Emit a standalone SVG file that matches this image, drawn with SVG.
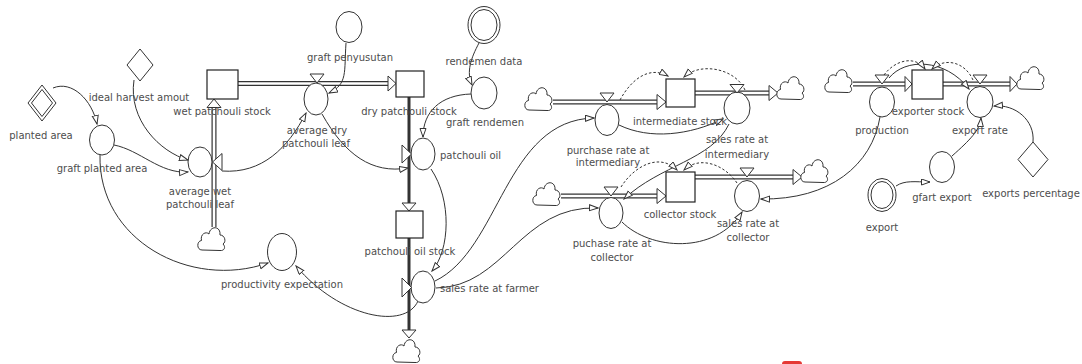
<svg xmlns="http://www.w3.org/2000/svg" xmlns:xlink="http://www.w3.org/1999/xlink" width="1082" height="364" viewBox="0 0 1082 364">
<style>
.lbl{font-family:"DejaVu Sans",sans-serif;font-size:10px;fill:#4d4d4d;text-anchor:middle}
.st{text-anchor:start}
.aux{fill:#fff;stroke:#333;stroke-width:1}
.stock{fill:#fff;stroke:#222;stroke-width:1.2}
.pipeo{fill:none;stroke:#333;stroke-width:5}
.pipei{fill:none;stroke:#fff;stroke-width:2.6}
.pipes{fill:none;stroke:#333;stroke-width:3}
.head{fill:#fff;stroke:#333;stroke-width:1}
.lnk{fill:none;stroke:#333;stroke-width:1;marker-end:url(#ah)}
.dlnk{fill:none;stroke:#333;stroke-width:1;stroke-dasharray:2.5,2;marker-end:url(#ah)}
.cloud{fill:#fff;stroke:#333;stroke-width:1}
</style>
<defs>
<marker id="ah" markerUnits="userSpaceOnUse" markerWidth="10" markerHeight="8" refX="9" refY="3.5" orient="auto">
<path d="M0.5,0.5 L9,3.5 L0.5,6.5 Z" fill="#fff" stroke="#333" stroke-width="1"/>
</marker>
<path id="cl" d="M-10,11 C-15.5,11 -15.5,2 -10.5,1.5 C-12,-5 -6,-8 -3,-5 C-2,-13.5 9,-13.5 8,-4 C13,-4 14.5,3 11,5 C14,8 12.5,12 8,11.5 Z"/>
</defs>
<rect width="1082" height="364" fill="#fff"/>

<g id="pipes">
<!-- wet -> dry -->
<line class="pipeo" x1="238" y1="83.5" x2="389" y2="83.5"/><line class="pipei" x1="238" y1="83.5" x2="390" y2="83.5"/>
<polygon class="head" points="388,76 396,83.5 388,91"/>
<!-- cloud -> wet stock (vertical) -->
<line class="pipeo" x1="214" y1="227" x2="214" y2="107"/><line class="pipei" x1="214" y1="228" x2="214" y2="106"/>
<polygon class="head" points="207,107.5 214,99 221,107.5"/>
<!-- dry -> patchouli oil stock -> cloud -->
<line class="pipes" x1="409" y1="97" x2="409" y2="204"/>
<polygon class="head" points="402,203 409,211 416,203"/>
<line class="pipes" x1="409" y1="238" x2="409" y2="331"/>
<polygon class="head" points="402,330 409,338 416,330"/>
<!-- intermediate -->
<line class="pipeo" x1="553" y1="102" x2="658" y2="102"/><line class="pipei" x1="552" y1="102" x2="659" y2="102"/>
<polygon class="head" points="657,94.5 666,102 657,109.5"/>
<line class="pipeo" x1="695" y1="93" x2="770" y2="93"/><line class="pipei" x1="695" y1="93" x2="771" y2="93"/>
<polygon class="head" points="769,85.5 778,93 769,100.5"/>
<!-- collector -->
<line class="pipeo" x1="561" y1="196" x2="658" y2="196"/><line class="pipei" x1="560" y1="196" x2="659" y2="196"/>
<polygon class="head" points="657,188.5 666,196 657,203.5"/>
<line class="pipeo" x1="695" y1="177" x2="794" y2="177"/><line class="pipei" x1="695" y1="177" x2="795" y2="177"/>
<polygon class="head" points="793,169.5 802,177 793,184.5"/>
<!-- exporter -->
<line class="pipeo" x1="853" y1="84" x2="906" y2="84"/><line class="pipei" x1="852" y1="84" x2="907" y2="84"/>
<polygon class="head" points="905,76.5 912,84 905,91.5"/>
<line class="pipeo" x1="943" y1="84" x2="1011" y2="84"/><line class="pipei" x1="943" y1="84" x2="1012" y2="84"/>
<polygon class="head" points="1010,76.5 1017,84 1010,91.5"/>
</g>

<g id="clouds">
<use href="#cl" class="cloud" x="212" y="239"/>
<use href="#cl" class="cloud" x="407" y="351"/>
<use href="#cl" class="cloud" x="539" y="99"/>
<use href="#cl" class="cloud" x="791" y="88"/>
<use href="#cl" class="cloud" x="547" y="194"/>
<use href="#cl" class="cloud" x="815" y="171"/>
<use href="#cl" class="cloud" x="839" y="81"/>
<use href="#cl" class="cloud" x="1031" y="78"/>
</g>

<g id="connectors">
<path class="lnk" d="M53,88 C72,80 92,100 97,124"/>
<path class="lnk" d="M134,80 C128,120 160,152 188,160"/>
<path class="lnk" d="M114,145 C140,150 160,174 188,172"/>
<path class="lnk" d="M100,155 C98,240 190,290 268,263"/>
<path class="lnk" d="M222,171 C262,174 288,148 306,113"/>
<path class="lnk" d="M322,114 C345,155 372,174 408,168"/>
<path class="lnk" d="M346,43 C344,72 348,84 329,93"/>
<path class="lnk" d="M479,43 C471,58 466,72 472,85"/>
<path class="lnk" d="M471,94 C440,95 423,112 423,137"/>
<path class="lnk" d="M431,169 C452,200 450,250 432,271"/>
<path class="lnk" d="M418,301 C405,330 340,318 296,266"/>
<path class="lnk" d="M435,281 C500,250 505,120 594,118"/>
<path class="lnk" d="M436,288 C505,287 520,205 598,208"/>
<path class="lnk" d="M619,125 C650,140 690,135 723,119"/>
<path class="lnk" d="M729,124 C712,160 660,165 624,199"/>
<path class="lnk" d="M622,222 C650,250 715,255 742,212"/>
<path class="lnk" d="M880,117 C872,165 830,200 761,199"/>
<path class="lnk" d="M889,78 C905,58 945,58 969,89"/>
<path class="lnk" d="M1033,142 C1035,120 1015,104 994,106"/>
<path class="lnk" d="M952,156 C970,140 980,130 981,118"/>
<path class="lnk" d="M896,186 C905,180 915,182 930,182"/>
<path class="dlnk" d="M620,100 C632,78 650,66 668,76"/>
<path class="dlnk" d="M745,90 C735,68 700,62 684,77"/>
<path class="dlnk" d="M621,187 C635,165 660,153 677,170"/>
<path class="dlnk" d="M737,183 C725,165 700,155 684,170"/>
<path class="dlnk" d="M884,75 C895,60 915,55 925,69"/>
<path class="dlnk" d="M973,80 C965,62 945,57 932,69"/>
</g>

<g id="planted-area"><polygon class="aux" points="42,85 56,103 42,121 28,103"/><polygon class="aux" points="42,89.5 52.5,103 42,116.5 31.5,103"/><text class="lbl" x="41" y="138.5">planted area</text></g>
<g id="ideal-harvest-amout"><polygon class="aux" points="140,49 153,65 140,81 127,65"/><text class="lbl" x="139" y="100.5">ideal harvest amout</text></g>
<g id="wet-patchouli-stock"><rect class="stock" x="207" y="70" width="31" height="29"/><text class="lbl" x="222" y="114.5">wet patchouli stock</text></g>
<g id="graft-planted-area"><ellipse class="aux" cx="102" cy="140" rx="12.5" ry="15"/><text class="lbl" x="102" y="171.5">graft planted area</text></g>
<g id="average-wet-patchouli-leaf"><ellipse class="aux" cx="200" cy="162" rx="12" ry="15"/><polygon class="head" points="222,153.5 212.5,162 222,170.5"/><text class="lbl" x="200" y="194.5">average wet</text><text class="lbl" x="200" y="208">patchouli leaf</text></g>
<g id="graft-penyusutan"><ellipse class="aux" cx="349" cy="27" rx="13" ry="15.5"/><text class="lbl" x="350" y="60.5">graft penyusutan</text></g>
<g id="average-dry-patchouli-leaf"><ellipse class="aux" cx="316" cy="99" rx="12" ry="16"/><polygon class="head" points="310,74 324,74 317,83"/><text class="lbl" x="317" y="133.5">average dry</text><text class="lbl" x="316" y="147">patchouli leaf</text></g>
<g id="dry-patchouli-stock"><rect class="stock" x="396" y="71" width="28" height="26"/><text class="lbl" x="409" y="114.5">dry patchouli stock</text></g>
<g id="rendemen-data"><ellipse class="aux" cx="484" cy="25" rx="16" ry="18.5"/><ellipse class="aux" cx="484" cy="25" rx="13" ry="15.5"/><text class="lbl" x="484" y="64.5">rendemen data</text></g>
<g id="graft-rendemen"><ellipse class="aux" cx="484" cy="93" rx="13" ry="16"/><text class="lbl" x="485" y="125.5">graft rendemen</text></g>
<g id="patchouli-oil"><ellipse class="aux" cx="423" cy="154" rx="12" ry="16"/><polygon class="head" points="402,145 411.5,154 402,163"/><text class="lbl st" x="440" y="158.5">patchouli oil</text></g>
<g id="patchouli-oil-stock"><rect class="stock" x="396" y="211" width="27" height="27"/><text class="lbl" x="410" y="254.5">patchouli oil stock</text></g>
<g id="sales-rate-at-farmer"><ellipse class="aux" cx="423" cy="287" rx="12" ry="16"/><polygon class="head" points="402,278 411.5,287.5 402,297"/><text class="lbl st" x="440" y="291.5">sales rate at farmer</text></g>
<g id="productivity-expectation"><ellipse class="aux" cx="282" cy="252" rx="14.5" ry="18.5"/><text class="lbl" x="282" y="287.5">productivity expectation</text></g>
<g id="purchase-rate-at-intermediary"><ellipse class="aux" cx="607" cy="120" rx="12" ry="15.5"/><polygon class="head" points="600,93 614,93 607,102"/><text class="lbl" x="608" y="153.5">purchase rate at</text><text class="lbl" x="608" y="166">intermediary</text></g>
<g id="intermediate-stock"><rect class="stock" x="666" y="79" width="29" height="28"/><text class="lbl" x="680" y="124.5">intermediate stock</text></g>
<g id="sales-rate-at-intermediary"><ellipse class="aux" cx="737" cy="108" rx="13" ry="16"/><polygon class="head" points="730,84.5 744,84.5 737,93"/><text class="lbl" x="737" y="143">sales rate at</text><text class="lbl" x="737" y="157.5">intermediary</text></g>
<g id="puchase-rate-at-collector"><ellipse class="aux" cx="611" cy="213" rx="12" ry="15.5"/><polygon class="head" points="604,187 618,187 611,196"/><text class="lbl" x="612" y="246.5">puchase rate at</text><text class="lbl" x="612" y="260.5">collector</text></g>
<g id="collector-stock"><rect class="stock" x="666" y="172" width="29" height="30"/><text class="lbl" x="680" y="217.5">collector stock</text></g>
<g id="sales-rate-at-collector"><ellipse class="aux" cx="747" cy="196" rx="12.5" ry="15.5"/><polygon class="head" points="740,168 754,168 747,177"/><text class="lbl" x="748" y="226.5">sales rate at</text><text class="lbl" x="748" y="240.5">collector</text></g>
<g id="production"><ellipse class="aux" cx="882" cy="102" rx="12.5" ry="15"/><polygon class="head" points="875,75 889,75 882,84"/><text class="lbl" x="882" y="133.5">production</text></g>
<g id="exporter-stock"><rect class="stock" x="912" y="70" width="31" height="29"/><text class="lbl" x="928" y="114.5">exporter stock</text></g>
<g id="export-rate"><ellipse class="aux" cx="980" cy="102" rx="13" ry="15.5"/><polygon class="head" points="973,75 987,75 980,84"/><text class="lbl" x="980" y="133.5">export rate</text></g>
<g id="exports-percentage"><polygon class="aux" points="1033,142 1048,159.5 1033,177 1018,159.5"/><text class="lbl" x="1031" y="196.5">exports percentage</text></g>
<g id="gfart-export"><ellipse class="aux" cx="942" cy="167" rx="12.5" ry="15.5"/><text class="lbl" x="942" y="200.5">gfart export</text></g>
<g id="export"><ellipse class="aux" cx="882" cy="195" rx="14" ry="16.5"/><ellipse class="aux" cx="882" cy="195" rx="11" ry="13.5"/><text class="lbl" x="882" y="230.5">export</text></g>

<rect x="782" y="361" width="20" height="10" rx="3" fill="#e53935"/>
</svg>
